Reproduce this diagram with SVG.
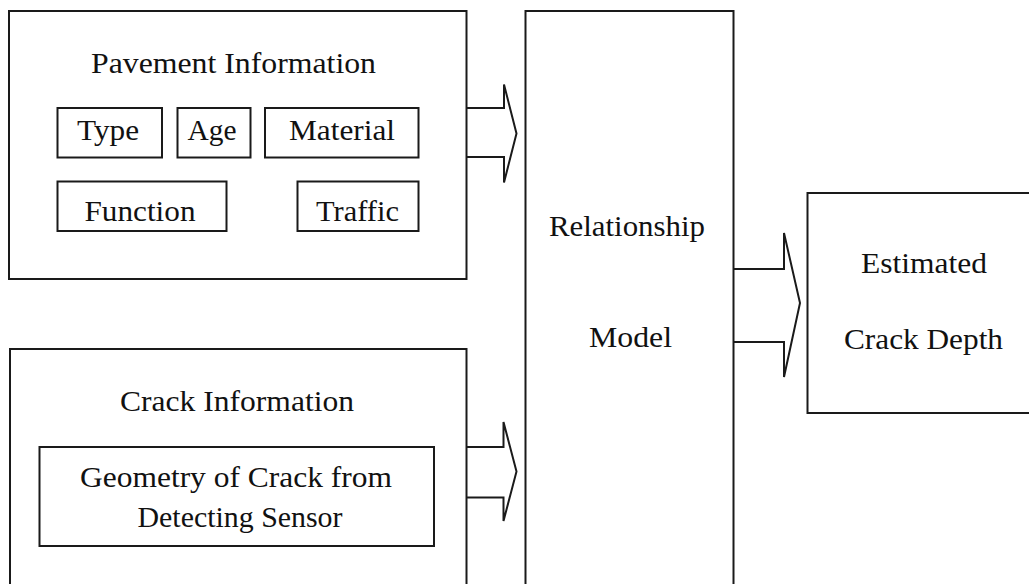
<svg xmlns="http://www.w3.org/2000/svg" width="1029" height="584" viewBox="0 0 1029 584">
  <style>
    .box { fill: none; stroke: #1a1a1a; stroke-width: 2; }
    .arrow { fill: none; stroke: #1a1a1a; stroke-width: 2; stroke-linejoin: miter; }
    .lbl { font-family: "Liberation Serif", "Times New Roman", serif; font-size: 29px; fill: #111; text-anchor: middle; }
  </style>
  <rect width="1029" height="584" fill="#ffffff"/>

  <g id="pavement-info">
    <rect class="box" x="9" y="11" width="457.5" height="268"/>
    <text class="lbl" x="233.5" y="73" textLength="285" lengthAdjust="spacingAndGlyphs">Pavement Information</text>
    <g id="type">
      <rect class="box" x="57.5" y="108" width="104.5" height="49.5"/>
      <text class="lbl" x="108" y="140" textLength="62" lengthAdjust="spacingAndGlyphs">Type</text>
    </g>
    <g id="age">
      <rect class="box" x="177.5" y="108" width="73" height="49.5"/>
      <text class="lbl" x="212" y="140" textLength="49" lengthAdjust="spacingAndGlyphs">Age</text>
    </g>
    <g id="material">
      <rect class="box" x="265" y="108" width="153.5" height="49.5"/>
      <text class="lbl" x="342" y="140" textLength="106" lengthAdjust="spacingAndGlyphs">Material</text>
    </g>
    <g id="function">
      <rect class="box" x="57.5" y="181.5" width="169" height="49.5"/>
      <text class="lbl" x="140" y="221" textLength="111" lengthAdjust="spacingAndGlyphs">Function</text>
    </g>
    <g id="traffic">
      <rect class="box" x="297.5" y="181.5" width="121" height="49.5"/>
      <text class="lbl" x="357.5" y="221" textLength="83" lengthAdjust="spacingAndGlyphs">Traffic</text>
    </g>
  </g>

  <g id="crack-info">
    <rect class="box" x="10" y="349" width="456.5" height="250"/>
    <text class="lbl" x="237" y="411" textLength="234" lengthAdjust="spacingAndGlyphs">Crack Information</text>
    <g id="crack-geometry">
      <rect class="box" x="39.5" y="447" width="394.5" height="99"/>
      <text class="lbl" x="236" y="487" textLength="312" lengthAdjust="spacingAndGlyphs">Geometry of Crack from</text>
      <text class="lbl" x="240" y="527" textLength="205" lengthAdjust="spacingAndGlyphs">Detecting Sensor</text>
    </g>
  </g>

  <g id="relationship-model">
    <rect class="box" x="525.5" y="11" width="208" height="600"/>
    <text class="lbl" x="627" y="236" textLength="156" lengthAdjust="spacingAndGlyphs">Relationship</text>
    <text class="lbl" x="630.5" y="347" textLength="83" lengthAdjust="spacingAndGlyphs">Model</text>
  </g>

  <g id="estimated-depth">
    <rect class="box" x="807.5" y="193" width="240" height="220"/>
    <text class="lbl" x="924" y="273" textLength="126" lengthAdjust="spacingAndGlyphs">Estimated</text>
    <text class="lbl" x="923.5" y="349" textLength="159" lengthAdjust="spacingAndGlyphs">Crack Depth</text>
  </g>

  <g id="connectors">
    <path class="arrow" d="M466.5,108 H504 V84.5 L516.5,133.5 L504,182.5 V157 H466.5"/>
    <path class="arrow" d="M466.5,447 H503.5 V422 L516.5,471.5 L503.5,521 V497.5 H466.5"/>
    <path class="arrow" d="M733.5,269 H784 V233 L800,303 L784,377 V342 H733.5"/>
  </g>
</svg>
